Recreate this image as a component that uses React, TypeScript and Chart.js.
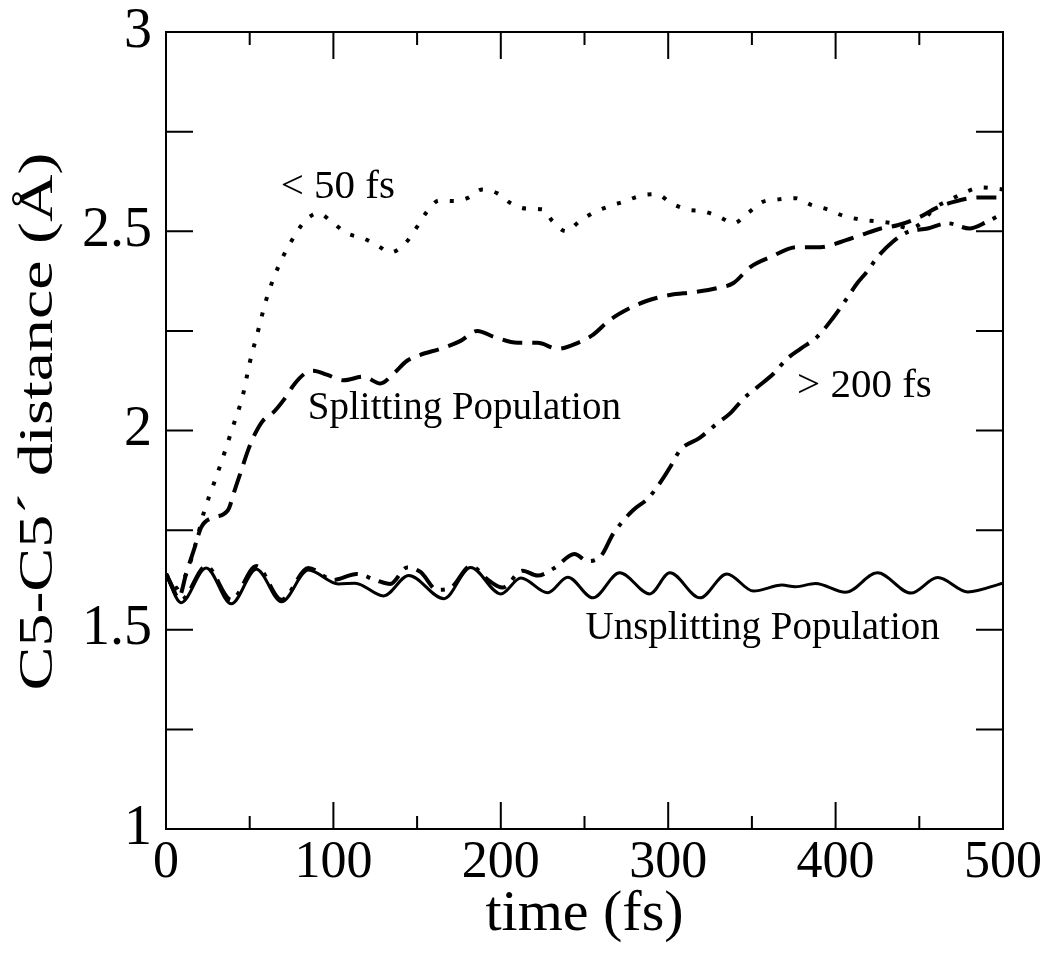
import React, { useEffect, useRef } from "react";
import { Chart, registerables } from "chart.js";

Chart.register(...registerables);

// ---- Data (time in fs, C5-C5' distance in Å) ----
const unsplitTime = [0, 9, 24, 39, 54, 69, 85, 103, 113, 130, 145, 166, 182, 200, 212, 228, 240, 255, 271, 289, 301, 319, 335, 351, 368, 376, 388, 406, 425, 445, 461, 479, 500];
const unsplitDist = [1.64, 1.568, 1.655, 1.565, 1.652, 1.57, 1.65, 1.615, 1.617, 1.585, 1.636, 1.578, 1.656, 1.59, 1.63, 1.593, 1.632, 1.58, 1.643, 1.59, 1.643, 1.58, 1.64, 1.597, 1.612, 1.608, 1.616, 1.594, 1.643, 1.592, 1.631, 1.595, 1.617];

const fastTime = [0, 6, 12, 18, 23, 28, 33, 40, 46, 50, 55, 60, 67, 77, 84, 91, 100, 108, 118, 126, 134, 143, 149, 156, 163, 172, 180, 189, 198, 206, 215, 225, 231, 239, 247, 256, 265, 274, 284, 293, 302, 311, 321, 331, 339, 348, 356, 366, 376, 385, 395, 405, 414, 424, 434, 444, 451, 459, 468, 477, 487, 500];
const fastDist = [1.64, 1.605, 1.64, 1.72, 1.8, 1.86, 1.92, 2.01, 2.09, 2.17, 2.25, 2.33, 2.41, 2.49, 2.53, 2.545, 2.52, 2.495, 2.482, 2.465, 2.447, 2.47, 2.505, 2.55, 2.577, 2.576, 2.583, 2.605, 2.595, 2.57, 2.557, 2.555, 2.525, 2.5, 2.525, 2.548, 2.563, 2.575, 2.59, 2.593, 2.57, 2.555, 2.55, 2.535, 2.52, 2.547, 2.573, 2.58, 2.583, 2.567, 2.555, 2.538, 2.53, 2.525, 2.52, 2.507, 2.52, 2.558, 2.578, 2.597, 2.61, 2.605];

const splitTime = [0, 8, 12, 17, 21, 27, 37, 41, 45, 49, 53, 58, 64, 70, 77, 83, 88, 96, 106, 118, 128, 136, 144, 152, 164, 176, 186, 196, 210, 222, 234, 246, 255, 265, 276, 287, 301, 315, 329, 339, 349, 361, 377, 391, 403, 415, 427, 437, 450, 460, 470, 486, 500];
const splitDist = [1.64, 1.585, 1.64, 1.705, 1.757, 1.78, 1.8, 1.85, 1.9, 1.95, 1.99, 2.025, 2.045, 2.075, 2.118, 2.143, 2.15, 2.14, 2.126, 2.135, 2.118, 2.143, 2.175, 2.19, 2.205, 2.225, 2.25, 2.235, 2.22, 2.22, 2.205, 2.22, 2.24, 2.277, 2.305, 2.325, 2.34, 2.347, 2.357, 2.37, 2.41, 2.435, 2.46, 2.46, 2.473, 2.49, 2.507, 2.515, 2.535, 2.558, 2.573, 2.585, 2.585];

const slowTime = [0, 9, 24, 39, 54, 69, 85, 100, 114, 125, 134, 144, 152, 162, 170, 182, 193, 201, 213, 222, 232, 244, 252, 260, 267, 273, 279, 288, 296, 301, 307, 319, 329, 337, 345, 353, 363, 371, 379, 389, 398, 406, 413, 419, 425, 434, 443, 455, 467, 480, 490, 500];
const slowDist = [1.64, 1.575, 1.66, 1.575, 1.66, 1.575, 1.655, 1.625, 1.64, 1.625, 1.615, 1.656, 1.645, 1.6, 1.605, 1.66, 1.623, 1.606, 1.648, 1.636, 1.655, 1.69, 1.672, 1.686, 1.74, 1.773, 1.8, 1.83, 1.874, 1.907, 1.95, 1.982, 2.017, 2.043, 2.08, 2.108, 2.143, 2.18, 2.205, 2.235, 2.28, 2.327, 2.37, 2.4, 2.435, 2.473, 2.498, 2.507, 2.52, 2.507, 2.523, 2.545];

const xTickMarks = [0, 50, 100, 150, 200, 250, 300, 350, 400, 450, 500];
const yTickMarks = [1, 1.25, 1.5, 1.75, 2, 2.25, 2.5, 2.75, 3];

const annotationTexts = ["< 50 fs", "Splitting Population", "> 200 fs", "Unsplitting Population"];
const annotationTime = [68.5, 84.7, 377, 250.6];
const annotationDist = [2.583, 2.03, 2.083, 1.477];
const annotationSize = [41, 39, 41, 39];

const xTitle = "time (fs)";
const yTitle = "C5-C5\u00B4 distance (\u00C5)";

const SERIF = '"Liberation Serif", "Times New Roman", serif';

function pts(t: number[], v: number[]) {
  return t.map((x, i) => ({ x, y: v[i] }));
}

export default function App() {
  const ref = useRef<HTMLCanvasElement>(null);

  useEffect(() => {
    const canvas = ref.current;
    if (!canvas) return;

    const framePlugin = {
      id: "framePlugin",
      afterDatasetsDraw(chart: any) {
        const { ctx, chartArea: a, scales } = chart;
        const xs = scales.x;
        const ys = scales.y;
        ctx.save();
        ctx.strokeStyle = "#000";
        ctx.lineWidth = 2;
        ctx.lineCap = "butt";
        ctx.strokeRect(a.left, a.top, a.right - a.left, a.bottom - a.top);
        ctx.beginPath();
        xTickMarks.forEach((t) => {
          const px = xs.getPixelForValue(t);
          const len = t % 100 === 0 ? 27 : 13;
          ctx.moveTo(px, a.bottom);
          ctx.lineTo(px, a.bottom - len);
          ctx.moveTo(px, a.top);
          ctx.lineTo(px, a.top + len);
        });
        yTickMarks.forEach((v) => {
          const py = ys.getPixelForValue(v);
          ctx.moveTo(a.left, py);
          ctx.lineTo(a.left + 27, py);
          ctx.moveTo(a.right, py);
          ctx.lineTo(a.right - 27, py);
        });
        ctx.stroke();

        // annotations
        ctx.fillStyle = "#000";
        ctx.textAlign = "left";
        ctx.textBaseline = "alphabetic";
        annotationTexts.forEach((txt, i) => {
          ctx.font = `${annotationSize[i]}px ${SERIF}`;
          ctx.fillText(txt, xs.getPixelForValue(annotationTime[i]), ys.getPixelForValue(annotationDist[i]));
        });

        // y axis title (stretched along its length like the reference)
        ctx.font = `48px ${SERIF}`;
        ctx.textAlign = "center";
        ctx.textBaseline = "middle";
        const w = ctx.measureText(yTitle).width;
        const targetLen = 538;
        ctx.translate(39, (a.top + a.bottom) / 2 - 9);
        ctx.rotate(-Math.PI / 2);
        ctx.scale(targetLen / w, 1);
        ctx.fillText(yTitle, 0, 0);
        ctx.restore();
      },
    };

    const chart = new Chart(canvas, {
      type: "line",
      data: {
        datasets: [
          {
            label: "Unsplitting Population",
            data: pts(unsplitTime, unsplitDist),
            borderColor: "#000",
            borderWidth: 3,
            pointRadius: 0,
            cubicInterpolationMode: "monotone",
            fill: false,
          },
          {
            label: "< 50 fs",
            data: pts(fastTime, fastDist),
            borderColor: "#000",
            borderWidth: 4,
            borderDash: [4, 12],
            borderCapStyle: "butt",
            pointRadius: 0,
            cubicInterpolationMode: "monotone",
            fill: false,
          },
          {
            label: "Splitting Population",
            data: pts(splitTime, splitDist),
            borderColor: "#000",
            borderWidth: 4,
            borderDash: [20, 10],
            borderCapStyle: "butt",
            pointRadius: 0,
            cubicInterpolationMode: "monotone",
            fill: false,
          },
          {
            label: "> 200 fs",
            data: pts(slowTime, slowDist),
            borderColor: "#000",
            borderWidth: 4,
            borderDash: [24, 9, 4, 9],
            borderCapStyle: "butt",
            pointRadius: 0,
            cubicInterpolationMode: "monotone",
            fill: false,
          },
        ],
      } as any,
      options: {
        animation: false,
        responsive: true,
        maintainAspectRatio: false,
        layout: { padding: { top: 32, right: 47, left: 0, bottom: 0 } },
        plugins: {
          legend: { display: false },
          tooltip: { enabled: false },
        },
        scales: {
          x: {
            type: "linear",
            min: 0,
            max: 500,
            grid: { display: false, drawTicks: false },
            border: { display: false },
            ticks: {
              stepSize: 100,
              color: "#000",
              padding: 3,
              maxRotation: 0,
              font: { family: SERIF, size: 52 },
            },
            title: {
              display: true,
              text: xTitle,
              color: "#000",
              font: { family: SERIF, size: 58 },
              padding: { top: 0, bottom: 4 },
            },
            afterFit(scale: any) {
              scale.height = 125;
            },
          },
          y: {
            type: "linear",
            min: 1,
            max: 3,
            grid: { display: false, drawTicks: false },
            border: { display: false },
            ticks: {
              stepSize: 0.5,
              color: "#000",
              padding: 14,
              font: { family: SERIF, size: 56 },
              callback: (v: number) => String(v),
            },
            afterFit(scale: any) {
              scale.width = 166;
              scale.paddingTop = 0;
              scale.paddingBottom = 0;
            },
          },
        },
      } as any,
      plugins: [framePlugin],
    });

    return () => chart.destroy();
  }, []);

  return (
    <div style={{ position: "absolute", left: 0, top: 0, width: 1050, height: 954, background: "#fff" }}>
      <canvas ref={ref} />
    </div>
  );
}
